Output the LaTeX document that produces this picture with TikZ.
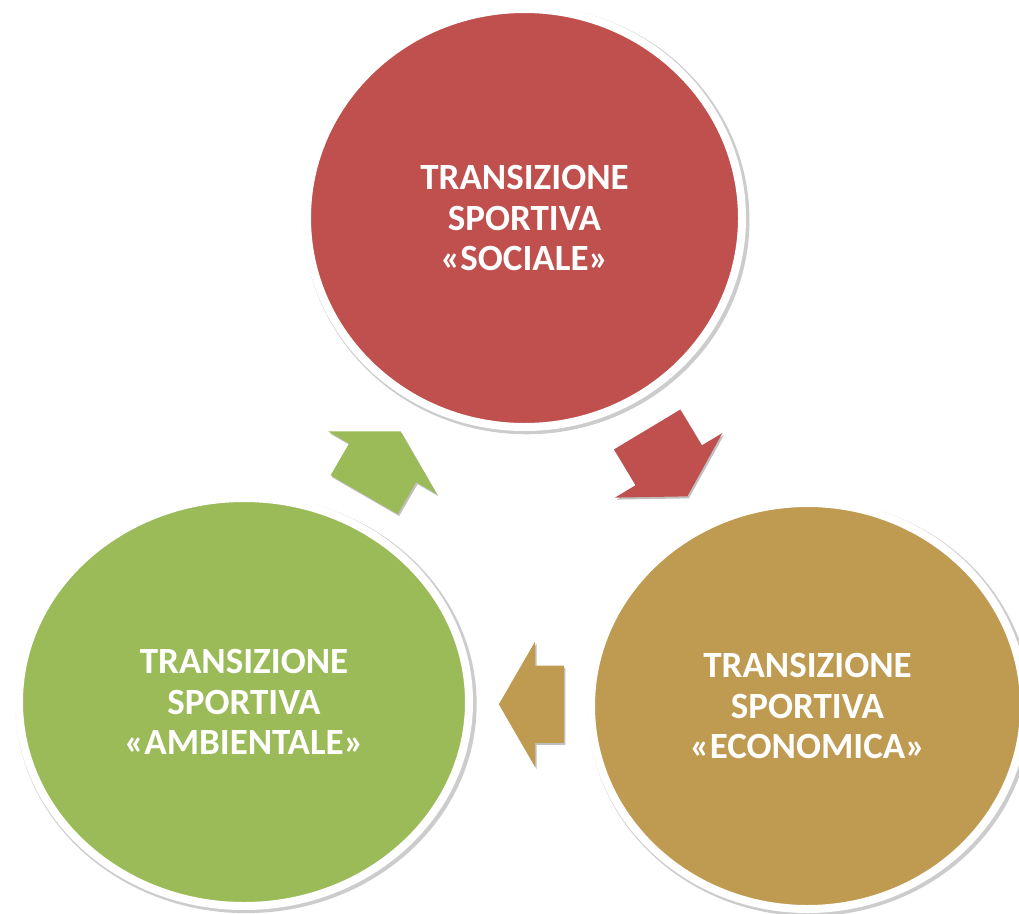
\documentclass[tikz,border=0pt]{standalone}
\usepackage{fontspec}
\setmainfont{Carlito}
\usetikzlibrary{shapes.geometric,shapes.arrows,shadows,calc}

\definecolor{socred}{RGB}{192,80,77}
\definecolor{ecotan}{RGB}{191,155,82}
\definecolor{ambgreen}{RGB}{155,187,89}

\begin{document}
\begin{tikzpicture}
[x=1pt,y=-1pt,%
  every node/.style={text=white,align=center,font=\bfseries\fontsize{37}{40.5}\selectfont},%
  bubble/.style={ellipse,inner sep=0pt,draw=white,line width=8pt,
    drop shadow={shadow scale=1.025,shadow xshift=2pt,shadow yshift=-2pt,opacity=.2,fill=black}},%
  turn/.style={single arrow,anchor=tail,inner xsep=0pt,inner ysep=38.5pt,
    single arrow head extend=24pt,single arrow tip angle=120,
    drop shadow={shadow xshift=1.5pt,shadow yshift=-2pt,opacity=.25,fill=black}}]
\useasboundingbox (0,0) rectangle (1019,913);
% the three transitions
\node[bubble,fill=socred,minimum width=435pt,minimum height=418pt] (soc) at (524.5,218)
  {TRANSIZIONE\\SPORTIVA\\«SOCIALE»};
\node[bubble,fill=ecotan,minimum width=433pt,minimum height=406pt] (eco) at (807.5,706)
  {TRANSIZIONE\\SPORTIVA\\«ECONOMICA»};
\node[bubble,fill=ambgreen,minimum width=450pt,minimum height=408pt] (amb) at (244,702)
  {TRANSIZIONE\\SPORTIVA\\«AMBIENTALE»};
% the cycle
\node[turn,fill=socred,rotate=-59,minimum height=78pt] (soc2eco) at ($(soc)!.433!(eco)$) {};
\node[turn,fill=ecotan,rotate=180,minimum height=65pt] (eco2amb) at ($(eco)!.432!(amb)$) {};
\node[turn,fill=ambgreen,rotate=60,minimum height=73pt] (amb2soc) at ($(amb)!.428!(soc)$) {};
\end{tikzpicture}
\end{document}
